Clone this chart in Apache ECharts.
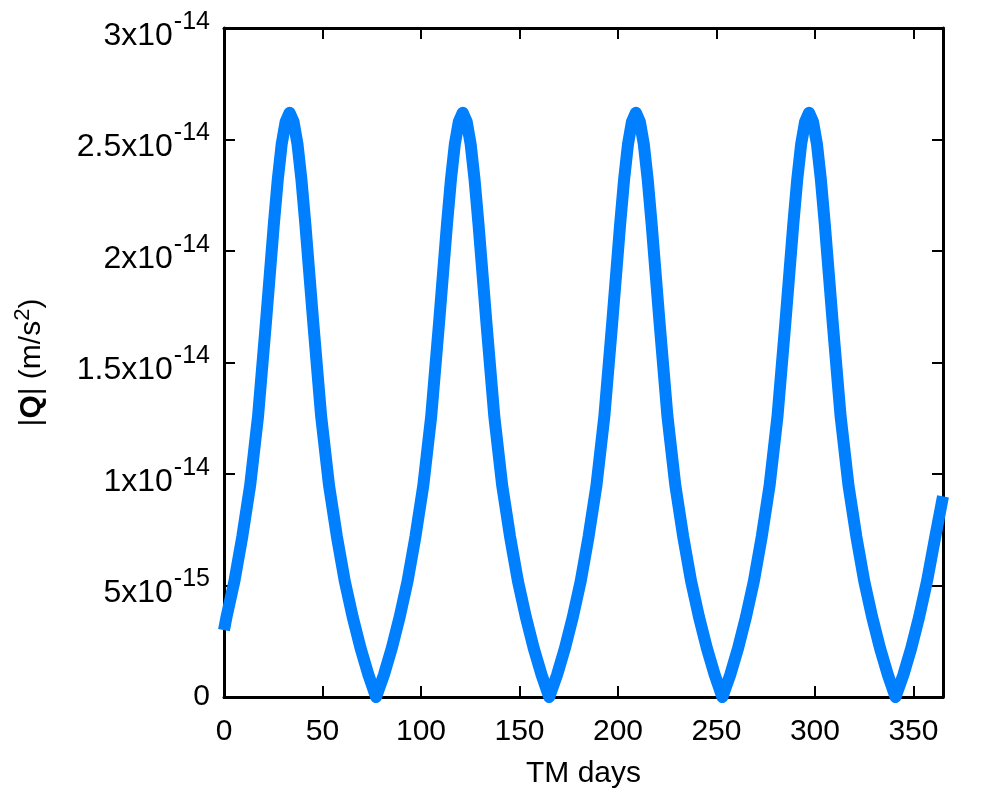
<!DOCTYPE html>
<html>
<head>
<meta charset="utf-8">
<script src="https://cdn.jsdelivr.net/npm/echarts@6/dist/echarts.min.js"></script>
<style>
html, body { margin: 0; padding: 0; background: #fff; }
#chart { width: 996px; height: 797px; }
</style>
</head>
<body>
<div id="chart"></div>
<script>
// TM days
var days = [
	0, 1.3, 5.3, 9.3, 13.3, 17.3, 21.3, 23.3, 25.3, 27.3, 29.3, 31.3, 33.3,
	35.3, 37.3, 39.3, 41.3, 43.3, 45.3, 49.3, 53.3, 57.3, 61.3, 65.3, 69.3, 73.3, 77.2,
	81.2, 85.2, 89.2, 93.2, 97.2, 101.2, 105.2, 109.2, 111.2, 113.2, 115.2, 117.2, 119.2, 121.2,
	123.2, 125.2, 127.2, 129.2, 131.2, 133.2, 137.2, 141.2, 145.2, 149.2, 153.2, 157.2, 161.2, 165.1,
	169.1, 173.1, 177.1, 181.1, 185.1, 189.1, 193.1, 197.1, 199.1, 201.1, 203.1, 205.1, 207.1, 209.1,
	211.1, 213.1, 215.1, 217.1, 219.1, 221.1, 225.1, 229.1, 233.1, 237.1, 241.1, 245.1, 249.1, 253.0,
	257, 261, 265, 269, 273, 277, 281, 285, 287, 289, 291, 293, 295, 297,
	299, 301, 303, 305, 307, 309, 313, 317, 321, 325, 329, 333, 337, 340.9,
	344.9, 348.9, 352.9, 356.9, 360.9, 365
];
// |Q| in units of 1e-14 m/s^2
var qAbs = [
	0.30, 0.36, 0.52, 0.72, 0.95, 1.26, 1.68, 1.90, 2.12, 2.32, 2.48, 2.58, 2.62,
	2.58, 2.48, 2.32, 2.12, 1.90, 1.68, 1.26, 0.95, 0.72, 0.52, 0.36, 0.22, 0.10, 0,
	0.10, 0.22, 0.36, 0.52, 0.72, 0.95, 1.26, 1.68, 1.90, 2.12, 2.32, 2.48, 2.58, 2.62,
	2.58, 2.48, 2.32, 2.12, 1.90, 1.68, 1.26, 0.95, 0.72, 0.52, 0.36, 0.22, 0.10, 0,
	0.10, 0.22, 0.36, 0.52, 0.72, 0.95, 1.26, 1.68, 1.90, 2.12, 2.32, 2.48, 2.58, 2.62,
	2.58, 2.48, 2.32, 2.12, 1.90, 1.68, 1.26, 0.95, 0.72, 0.52, 0.36, 0.22, 0.10, 0,
	0.10, 0.22, 0.36, 0.52, 0.72, 0.95, 1.26, 1.68, 1.90, 2.12, 2.32, 2.48, 2.58, 2.62,
	2.58, 2.48, 2.32, 2.12, 1.90, 1.68, 1.26, 0.95, 0.72, 0.52, 0.36, 0.22, 0.10, 0,
	0.10, 0.22, 0.36, 0.52, 0.71, 0.90
];
// y tick labels: mantissa and exponent, one per 0.5 step
var yTickMant = ['0', '5', '1', '1.5', '2', '2.5', '3'];
var yTickExp = ['', '-15', '-14', '-14', '-14', '-14', '-14'];

var font = '"Liberation Sans", Arial, Helvetica, sans-serif';

var seriesData = [];
for (var i = 0; i < days.length; i++) {
	seriesData.push([days[i], qAbs[i]]);
}

var frameLine = { show: true, onZero: false, lineStyle: { color: '#000', width: 3 } };
var frameTick = { show: true, inside: true, length: 11, lineStyle: { color: '#000', width: 2 } };

var myChart = echarts.init(document.getElementById('chart'), null, { renderer: 'canvas' });
var option = {
	backgroundColor: '#fff',
	animation: false,
	grid: { left: 224, top: 28, right: 53, bottom: 100 },
	xAxis: [{
		type: 'value', min: 0, max: 365, interval: 50, position: 'bottom',
		axisLine: frameLine, axisTick: frameTick, splitLine: { show: false },
		axisLabel: { show: true, showMaxLabel: false, margin: 20, color: '#000', fontSize: 30, fontFamily: font },
		name: 'TM days', nameLocation: 'middle', nameGap: 62,
		nameTextStyle: { color: '#000', fontSize: 30, fontFamily: font }
	}, {
		type: 'value', min: 0, max: 365, interval: 50, position: 'top',
		axisLine: frameLine, axisTick: frameTick, splitLine: { show: false },
		axisLabel: { show: false }
	}],
	yAxis: [{
		type: 'value', min: 0, max: 3, interval: 0.5, position: 'left',
		axisLine: frameLine, axisTick: frameTick, splitLine: { show: false },
		axisLabel: {
			show: true, margin: 14, color: '#000', fontFamily: font,
			formatter: function(v) {
				var k = Math.round(v / 0.5);
				if (k === 0) return '{z|0}';
				return '{m|' + yTickMant[k] + 'x10}{e|' + yTickExp[k] + '}';
			},
			rich: {
				z: { fontSize: 30, fontFamily: font, color: '#000' },
				m: { fontSize: 32, fontFamily: font, color: '#000', padding: [16, 0, 0, 0] },
				e: { fontSize: 25, fontFamily: font, color: '#000', padding: [0, 0, 12, 1] }
			}
		},
		name: '{n||}{b|Q}{n|| (m/s}{s|2}{n|)}', nameLocation: 'middle', nameGap: 172, nameRotate: 90,
		nameTextStyle: {
			rich: {
				b: { fontSize: 30, fontFamily: font, fontWeight: 'bold', color: '#000' },
				n: { fontSize: 30, fontFamily: font, color: '#000' },
				s: { fontSize: 22, fontFamily: font, color: '#000', padding: [0, 0, 18, 0] }
			}
		}
	}, {
		type: 'value', min: 0, max: 3, interval: 0.5, position: 'right',
		axisLine: frameLine, axisTick: frameTick, splitLine: { show: false },
		axisLabel: { show: false }
	}],
	series: [{
		type: 'line',
		data: seriesData,
		showSymbol: false,
		clip: false,
		smooth: false,
		lineStyle: { color: '#0080ff', width: 12, cap: 'butt', join: 'round' },
		z: 1
	}]
};
myChart.setOption(option);
window.onresize = myChart.resize;
</script>
</body>
</html>
